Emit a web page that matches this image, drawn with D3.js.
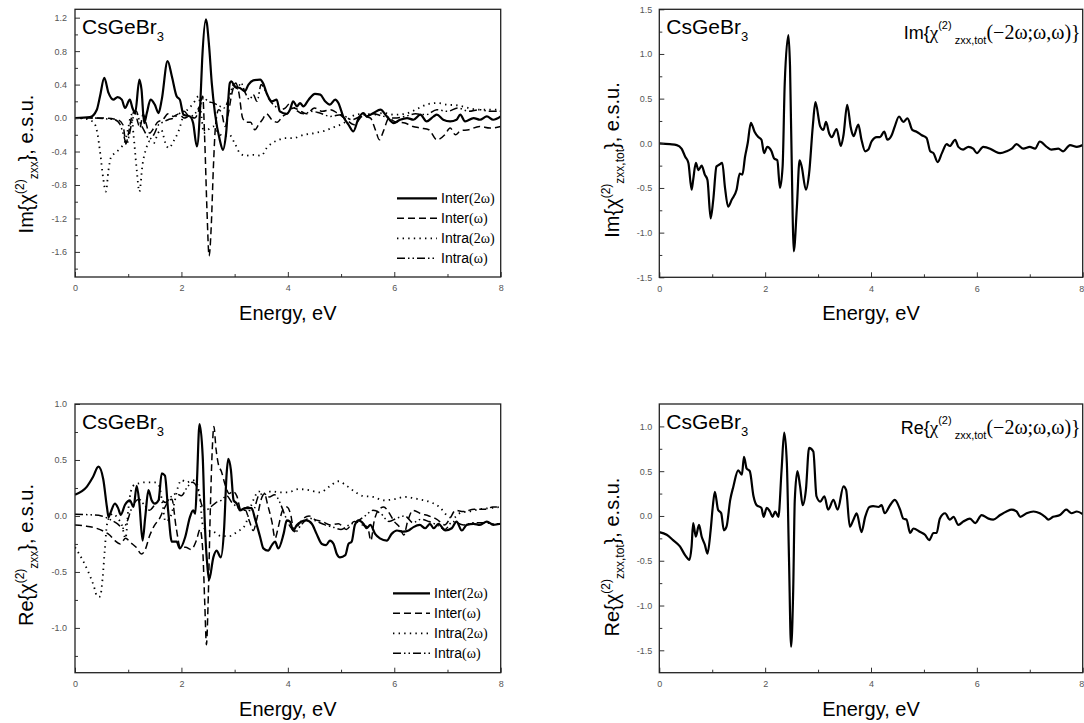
<!DOCTYPE html>
<html>
<head>
<meta charset="utf-8">
<script src="https://cdn.jsdelivr.net/npm/d3@7"></script>
<style>
  body { margin: 0; background: #fff; }
  svg { display: block; }
</style>
</head>
<body>
<svg id="chart" width="1084" height="723"></svg>
<script>
// ---- data (energy in eV, value in e.s.u.) ----
var energyTicks = [0, 2, 4, 6, 8];
var energyMinor = [1, 3, 5, 7];
var legendNames = ['Inter', 'Inter', 'Intra', 'Intra'];
var legendFreqs = ['(2\u03c9)', '(\u03c9)', '(2\u03c9)', '(\u03c9)'];

// Im, top-left
var imInter2w = [[0,0],[0.28,0.01],[0.41,0.1],[0.47,0.26],[0.55,0.48],[0.63,0.3],[0.72,0.22],[0.8,0.25],[0.88,0.22],[0.94,0.12],[1.03,0.22],[1.08,0.12],[1.13,0.06],[1.21,0.46],[1.25,0.34],[1.3,-0.06],[1.35,0.06],[1.42,0.22],[1.5,0.16],[1.57,0.06],[1.63,0.22],[1.74,0.68],[1.82,0.5],[1.91,0.26],[1.97,0.22],[2.04,0.04],[2.16,0.02],[2.22,-0.06],[2.29,-0.34],[2.35,0.1],[2.39,0.7],[2.46,1.18],[2.52,0.86],[2.57,0.42],[2.63,0.06],[2.72,-0.26],[2.78,-0.38],[2.84,-0.18],[2.91,0.42],[2.94,0.44],[3.01,0.37],[3.1,0.36],[3.19,0.32],[3.26,0.4],[3.35,0.45],[3.48,0.46],[3.54,0.41],[3.6,0.3],[3.7,0.2],[3.79,0.22],[3.85,0.08],[3.98,0.05],[4.04,0.1],[4.1,0.2],[4.17,0.14],[4.23,0.18],[4.29,0.14],[4.39,0.22],[4.51,0.29],[4.61,0.28],[4.7,0.2],[4.79,0.16],[4.89,0.22],[4.95,0.18],[5.04,0.02],[5.14,-0.08],[5.23,-0.16],[5.33,0],[5.42,0.06],[5.48,0.02],[5.61,0.06],[5.74,0.1],[5.86,0.02],[5.99,-0.06],[6.11,-0.02],[6.24,0],[6.36,-0.02],[6.49,0.04],[6.61,-0.04],[6.74,0.02],[6.8,0.04],[6.92,-0.02],[7.05,-0.04],[7.17,-0.02],[7.24,0.04],[7.33,-0.04],[7.49,0],[7.61,-0.02],[7.74,0.02],[7.86,-0.02],[8,0.02]];
var imInterW = [[0,0],[0.5,0],[0.8,-0.02],[0.9,-0.08],[0.96,-0.3],[1.0,-0.2],[1.06,0],[1.12,0.08],[1.18,-0.05],[1.22,-0.12],[1.28,0.05],[1.33,-0.05],[1.4,-0.18],[1.48,-0.12],[1.55,-0.05],[1.65,-0.02],[1.75,0.05],[1.85,0.02],[1.95,0.05],[2.05,0],[2.15,0.02],[2.25,0],[2.33,0.1],[2.4,0.26],[2.44,-0.3],[2.48,-1.1],[2.52,-1.65],[2.56,-1.3],[2.6,-0.6],[2.64,-0.1],[2.7,0.1],[2.76,0.05],[2.82,-0.1],[2.88,0.05],[2.95,0.3],[3.02,0.42],[3.08,0.3],[3.15,0],[3.22,-0.05],[3.3,-0.05],[3.38,-0.14],[3.45,-0.08],[3.52,-0.02],[3.6,0.05],[3.7,-0.02],[3.8,-0.05],[3.9,0.02],[4.0,0.06],[4.1,0.12],[4.2,0.1],[4.35,0.05],[4.5,0.12],[4.65,0.08],[4.8,0.1],[4.95,0.05],[5.1,-0.02],[5.25,-0.08],[5.4,0.02],[5.55,0],[5.65,-0.15],[5.72,-0.26],[5.8,-0.15],[5.9,0],[6.0,-0.04],[6.2,-0.06],[6.35,-0.1],[6.5,-0.12],[6.65,-0.14],[6.8,-0.26],[6.95,-0.2],[7.05,-0.12],[7.15,-0.2],[7.25,-0.15],[7.4,-0.14],[7.6,-0.1],[7.8,-0.12],[8,-0.1]];
var imIntra2w = [[0,0],[0.2,-0.01],[0.35,-0.05],[0.42,-0.18],[0.48,-0.45],[0.53,-0.72],[0.58,-0.88],[0.63,-0.62],[0.68,-0.46],[0.75,-0.42],[0.85,-0.36],[0.94,-0.28],[1.0,-0.12],[1.06,0.04],[1.1,-0.2],[1.16,-0.62],[1.21,-0.88],[1.27,-0.55],[1.33,-0.38],[1.4,-0.28],[1.48,-0.3],[1.56,-0.18],[1.62,-0.14],[1.7,-0.3],[1.76,-0.36],[1.85,-0.28],[1.95,-0.15],[2.05,0.05],[2.15,0.12],[2.25,0.2],[2.32,0.26],[2.38,0],[2.42,-0.18],[2.5,-0.14],[2.6,-0.1],[2.7,-0.18],[2.8,-0.22],[2.9,-0.2],[3.0,-0.3],[3.1,-0.42],[3.2,-0.45],[3.35,-0.44],[3.5,-0.45],[3.6,-0.36],[3.7,-0.3],[3.8,-0.27],[3.95,-0.24],[4.1,-0.24],[4.3,-0.2],[4.5,-0.18],[4.7,-0.15],[4.9,-0.1],[5.05,-0.06],[5.2,0.02],[5.4,0.05],[5.6,0.04],[5.8,0.06],[6.0,0.04],[6.2,0.05],[6.4,0.1],[6.6,0.16],[6.8,0.18],[7.0,0.16],[7.2,0.15],[7.4,0.12],[7.6,0.1],[7.8,0.1],[8,0.1]];
var imIntraW = [[0,0],[0.3,0],[0.6,-0.01],[0.75,-0.02],[0.85,-0.08],[0.92,-0.22],[0.97,-0.32],[1.02,-0.2],[1.08,-0.02],[1.15,0.08],[1.22,-0.05],[1.3,-0.15],[1.4,-0.25],[1.48,-0.2],[1.57,-0.08],[1.65,-0.05],[1.75,-0.02],[1.85,0],[1.95,0.05],[2.05,0.08],[2.15,0.02],[2.25,0.05],[2.35,0.15],[2.42,0.24],[2.5,0.2],[2.6,0.18],[2.7,0.15],[2.8,0.12],[2.9,0.25],[2.98,0.4],[3.05,0.35],[3.12,0.42],[3.2,0.3],[3.28,0.22],[3.35,0.28],[3.42,0.2],[3.5,0.4],[3.58,0.32],[3.65,0.22],[3.75,0.15],[3.85,0.1],[3.95,0.12],[4.05,0.18],[4.15,0.1],[4.3,0.05],[4.45,0.08],[4.6,0.06],[4.8,0.02],[5.0,0.04],[5.2,-0.02],[5.4,0.03],[5.6,0.05],[5.8,0.02],[6.0,0],[6.2,0.02],[6.4,0.05],[6.6,0.04],[6.8,0.1],[7.0,0.08],[7.2,0.12],[7.4,0.08],[7.6,0.1],[7.8,0.08],[8,0.08]];

// Im total, top-right
var imTotal = [[0,0],[0.2,-0.01],[0.33,-0.02],[0.42,-0.06],[0.49,-0.15],[0.55,-0.22],[0.61,-0.52],[0.64,-0.41],[0.69,-0.22],[0.74,-0.3],[0.8,-0.25],[0.86,-0.35],[0.91,-0.41],[0.97,-0.84],[1.02,-0.63],[1.08,-0.26],[1.13,-0.24],[1.19,-0.22],[1.24,-0.49],[1.3,-0.71],[1.37,-0.63],[1.46,-0.52],[1.52,-0.34],[1.57,-0.35],[1.62,-0.15],[1.67,0],[1.73,0.23],[1.8,0.13],[1.87,0.07],[1.93,0.04],[1.98,-0.11],[2.04,-0.04],[2.12,-0.09],[2.17,-0.17],[2.23,-0.19],[2.28,-0.5],[2.33,-0.26],[2.37,0.67],[2.44,1.21],[2.47,0.86],[2.52,-0.82],[2.54,-1.21],[2.6,-0.71],[2.65,-0.19],[2.69,-0.26],[2.77,-0.52],[2.83,-0.34],[2.9,0.19],[2.95,0.46],[3.04,0.19],[3.1,0.15],[3.15,0.24],[3.21,0.11],[3.26,0.07],[3.35,0.16],[3.43,-0.03],[3.48,0.09],[3.55,0.43],[3.62,0.17],[3.67,0.08],[3.76,0.21],[3.82,0.04],[3.89,-0.09],[3.95,-0.07],[4.01,0.02],[4.11,0.07],[4.17,0.07],[4.25,0.13],[4.31,0.04],[4.39,0.09],[4.45,0.19],[4.53,0.3],[4.61,0.24],[4.69,0.28],[4.78,0.15],[4.86,0.13],[4.96,0.09],[5.05,0.06],[5.12,-0.09],[5.18,-0.11],[5.26,-0.21],[5.34,-0.11],[5.43,-0.01],[5.49,-0.03],[5.59,0.04],[5.65,-0.04],[5.74,-0.07],[5.84,-0.04],[5.93,-0.06],[6.0,-0.11],[6.12,-0.04],[6.25,-0.06],[6.34,-0.09],[6.44,-0.11],[6.56,-0.09],[6.66,-0.06],[6.75,-0.01],[6.88,-0.06],[7.0,-0.04],[7.1,-0.06],[7.19,0.02],[7.32,-0.04],[7.41,-0.07],[7.54,-0.06],[7.63,-0.09],[7.76,-0.02],[7.89,-0.04],[8,-0.02]];

// Re, bottom-left
var reInter2w = [[0,0.19],[0.22,0.26],[0.34,0.35],[0.44,0.44],[0.53,0.33],[0.6,0.08],[0.63,-0.01],[0.66,0.02],[0.75,0.11],[0.81,0.07],[0.86,0.01],[0.94,0.1],[1.03,0.14],[1.1,0.08],[1.16,0.27],[1.21,0.11],[1.27,-0.22],[1.32,-0.01],[1.38,0.23],[1.44,0.14],[1.5,0.11],[1.57,0.14],[1.63,0.38],[1.69,0.36],[1.75,0.05],[1.82,-0.23],[1.91,-0.23],[1.97,-0.29],[2.07,-0.19],[2.16,-0.01],[2.22,0.05],[2.26,0.02],[2.29,0.29],[2.34,0.82],[2.4,0.53],[2.44,-0.07],[2.49,-0.46],[2.52,-0.57],[2.6,-0.37],[2.66,-0.31],[2.74,-0.37],[2.8,-0.13],[2.85,0.38],[2.88,0.51],[2.93,0.41],[2.98,0.14],[3.04,0.11],[3.1,0.05],[3.2,0.07],[3.32,0.07],[3.38,-0.02],[3.48,-0.19],[3.54,-0.29],[3.63,-0.31],[3.7,-0.26],[3.76,-0.23],[3.82,-0.29],[3.92,-0.16],[3.98,-0.04],[4.04,-0.05],[4.1,-0.13],[4.17,-0.08],[4.26,-0.05],[4.35,-0.04],[4.45,-0.07],[4.54,-0.16],[4.64,-0.25],[4.72,-0.26],[4.79,-0.22],[4.86,-0.25],[4.92,-0.34],[4.98,-0.37],[5.08,-0.35],[5.14,-0.25],[5.2,-0.23],[5.26,-0.08],[5.33,-0.04],[5.42,-0.07],[5.48,-0.11],[5.55,-0.08],[5.64,-0.16],[5.73,-0.2],[5.86,-0.22],[5.95,-0.16],[6.05,-0.13],[6.17,-0.14],[6.27,-0.13],[6.36,-0.1],[6.48,-0.08],[6.58,-0.11],[6.67,-0.07],[6.74,-0.11],[6.83,-0.07],[6.96,-0.13],[7.08,-0.11],[7.17,-0.05],[7.27,-0.13],[7.36,-0.08],[7.49,-0.07],[7.61,-0.08],[7.74,-0.05],[7.86,-0.08],[8,-0.07]];
var reInterW = [[0,-0.08],[0.2,-0.09],[0.4,-0.11],[0.55,-0.14],[0.65,-0.17],[0.75,-0.22],[0.85,-0.25],[0.95,-0.2],[1.05,-0.24],[1.15,-0.28],[1.25,-0.34],[1.32,-0.3],[1.4,-0.18],[1.5,-0.08],[1.58,-0.03],[1.66,0.05],[1.74,0.12],[1.82,0.15],[1.9,-0.1],[1.98,-0.28],[2.08,-0.28],[2.18,-0.3],[2.28,-0.22],[2.35,-0.12],[2.4,-0.3],[2.44,-0.8],[2.47,-1.15],[2.5,-0.8],[2.54,0],[2.58,0.6],[2.61,0.8],[2.65,0.6],[2.7,0.45],[2.75,0.4],[2.82,0.28],[2.9,0.2],[2.96,0.22],[3.04,0.18],[3.12,0.05],[3.2,0.05],[3.28,-0.05],[3.35,-0.13],[3.42,-0.02],[3.5,0.15],[3.56,0.2],[3.62,0.1],[3.7,-0.05],[3.76,-0.2],[3.82,-0.1],[3.9,0.05],[3.98,0.08],[4.05,0.02],[4.12,-0.14],[4.2,-0.08],[4.3,-0.02],[4.4,0],[4.5,-0.03],[4.65,-0.05],[4.8,-0.08],[4.95,-0.07],[5.1,-0.12],[5.25,-0.05],[5.4,-0.08],[5.5,-0.1],[5.56,-0.22],[5.62,-0.05],[5.7,0.05],[5.8,0.08],[5.9,0.03],[6.0,-0.05],[6.1,-0.1],[6.18,-0.17],[6.25,-0.05],[6.35,0.05],[6.5,0.02],[6.65,0],[6.8,-0.03],[6.95,-0.08],[7.05,-0.02],[7.15,0.05],[7.3,0.04],[7.5,0.06],[7.7,0.06],[7.85,0.08],[8,0.08]];
var reIntra2w = [[0,-0.28],[0.15,-0.4],[0.25,-0.5],[0.35,-0.62],[0.42,-0.72],[0.47,-0.72],[0.52,-0.55],[0.56,-0.3],[0.6,-0.08],[0.66,0],[0.72,0.02],[0.8,-0.02],[0.88,-0.08],[0.95,-0.2],[1.0,0.05],[1.05,0.22],[1.12,0.28],[1.2,0.29],[1.3,0.3],[1.4,0.3],[1.5,0.3],[1.58,0.27],[1.64,0.12],[1.7,-0.05],[1.78,-0.02],[1.86,0.1],[1.93,0.25],[2.0,0.32],[2.1,0.3],[2.2,0.32],[2.28,0.3],[2.35,0.15],[2.4,-0.08],[2.45,-0.12],[2.6,-0.14],[2.75,-0.18],[2.9,-0.18],[3.05,-0.14],[3.2,-0.08],[3.28,0.05],[3.36,0.15],[3.45,0.22],[3.55,0.2],[3.7,0.22],[3.85,0.21],[4.0,0.21],[4.2,0.24],[4.4,0.23],[4.6,0.21],[4.8,0.27],[4.95,0.31],[5.1,0.27],[5.25,0.22],[5.4,0.18],[5.6,0.17],[5.8,0.14],[6.0,0.15],[6.2,0.17],[6.45,0.15],[6.7,0.12],[6.85,0.08],[7.0,0],[7.1,-0.02],[7.25,0.03],[7.4,0.04],[7.6,0.06],[7.8,0.07],[8,0.08]];
var reIntraW = [[0,0.015],[0.3,0.01],[0.5,0],[0.65,-0.03],[0.8,-0.07],[0.9,-0.11],[0.98,-0.05],[1.05,0.05],[1.12,0.12],[1.2,0.15],[1.3,0.1],[1.4,0.05],[1.5,0.1],[1.6,0.15],[1.7,0.12],[1.8,0.17],[1.9,0.2],[2.0,0.18],[2.1,0.25],[2.2,0.3],[2.3,0.25],[2.38,0.1],[2.45,0.05],[2.55,0.08],[2.65,0.12],[2.75,0.14],[2.85,0.18],[2.95,0.12],[3.05,0.08],[3.15,0.06],[3.25,0.08],[3.35,0.05],[3.45,0.18],[3.55,0.2],[3.65,0.17],[3.75,0.19],[3.85,0.12],[3.95,0],[4.05,-0.1],[4.15,-0.14],[4.25,-0.08],[4.4,-0.02],[4.55,-0.05],[4.7,-0.08],[4.85,-0.1],[5.0,-0.12],[5.15,-0.08],[5.3,-0.05],[5.45,0],[5.6,0.05],[5.75,0.02],[5.9,-0.05],[6.05,-0.02],[6.2,0],[6.35,-0.06],[6.5,-0.03],[6.65,-0.05],[6.8,-0.08],[6.95,-0.12],[7.1,-0.05],[7.3,-0.08],[7.5,-0.06],[7.7,-0.06],[7.85,-0.07],[8,-0.07]];

// Re total, bottom-right
var reTotal = [[0,-0.18],[0.14,-0.21],[0.26,-0.27],[0.39,-0.34],[0.49,-0.44],[0.57,-0.49],[0.61,-0.34],[0.64,-0.08],[0.69,-0.23],[0.75,-0.1],[0.8,-0.23],[0.86,-0.32],[0.91,-0.42],[0.97,-0.16],[1.01,0.1],[1.05,0.27],[1.11,0.07],[1.17,0.03],[1.22,-0.16],[1.27,-0.12],[1.34,0.18],[1.4,0.33],[1.49,0.51],[1.56,0.46],[1.6,0.66],[1.65,0.53],[1.71,0.5],[1.78,0.22],[1.84,0.12],[1.93,0.09],[1.97,-0.01],[2.03,0.09],[2.09,0.05],[2.14,-0.01],[2.19,0.05],[2.25,-0.01],[2.31,0.51],[2.36,0.93],[2.41,0.59],[2.45,-0.46],[2.49,-1.46],[2.53,-0.83],[2.56,0.18],[2.61,0.5],[2.66,0.33],[2.71,0.12],[2.77,0.29],[2.83,0.76],[2.91,0.72],[2.97,0.22],[3.04,0.16],[3.12,0.22],[3.19,0.07],[3.29,0.18],[3.37,0.07],[3.48,0.33],[3.53,0.29],[3.6,-0.12],[3.67,-0.04],[3.73,0.03],[3.82,-0.18],[3.89,-0.01],[3.97,0.1],[4.04,0.11],[4.14,0.1],[4.2,0.12],[4.26,0.03],[4.36,0.12],[4.45,0.18],[4.55,0.07],[4.61,-0.03],[4.67,-0.04],[4.74,-0.19],[4.8,-0.14],[4.93,-0.18],[5.02,-0.21],[5.1,-0.27],[5.18,-0.19],[5.24,-0.19],[5.3,-0.03],[5.4,0.03],[5.49,-0.04],[5.56,-0.01],[5.65,-0.1],[5.75,-0.06],[5.87,-0.03],[5.97,-0.08],[6.09,0.01],[6.22,-0.03],[6.31,-0.04],[6.44,0.01],[6.56,0.05],[6.66,0.07],[6.75,0.05],[6.82,-0.01],[6.94,0.03],[7.07,0.05],[7.19,0.03],[7.29,-0.01],[7.35,-0.04],[7.44,-0.01],[7.57,0.01],[7.69,0.07],[7.79,0.03],[7.89,0.05],[8,0.02]];

// ---- drawing ----
var svg = d3.select('#chart');
svg.append('rect').attr('width', 1084).attr('height', 723).attr('fill', '#fff');

var styles = {
  solid:   {width: 2.2, dash: null},
  dashed:  {width: 1.5, dash: '7,4'},
  dotted:  {width: 1.8, dash: '1.4,4.2'},
  dashdot: {width: 1.5, dash: '8,3,1.5,3,1.5,3'}
};

var fmt = function(v) {
  return Math.abs(v) < 1e-9 ? '0.0' : v.toFixed(1);
};

function drawPanel(cfg, idx) {
  var x = d3.scaleLinear().domain([0, 8]).range([cfg.left, cfg.right]);
  var y = d3.scaleLinear().domain(cfg.yDomain).range([cfg.bottom, cfg.top]);
  var g = svg.append('g');

  g.append('clipPath').attr('id', 'clip' + idx)
    .append('rect')
      .attr('x', cfg.left).attr('y', cfg.top)
      .attr('width', cfg.right - cfg.left).attr('height', cfg.bottom - cfg.top);

  var line = d3.line()
      .x(function(d) { return x(d[0]); })
      .y(function(d) { return y(d[1]); })
      .curve(d3.curveMonotoneX);

  // draw thin styles first so the solid curve sits on top
  cfg.series.slice().reverse().forEach(function(s) {
    var st = styles[s.style];
    g.append('path')
        .attr('d', line(s.data))
        .attr('clip-path', 'url(#clip' + idx + ')')
        .attr('fill', 'none')
        .attr('stroke', '#000')
        .attr('stroke-width', st.width)
        .attr('stroke-linejoin', 'round')
        .attr('stroke-dasharray', st.dash);
  });

  // axes: ticks point inwards
  var xAxis = g.append('g')
      .attr('transform', 'translate(0,' + cfg.bottom + ')')
      .call(d3.axisBottom(x).tickValues(energyTicks).tickSize(-5).tickPadding(8)
        .tickFormat(d3.format('d')));
  g.append('g')
      .attr('transform', 'translate(0,' + cfg.bottom + ')')
      .call(d3.axisBottom(x).tickValues(energyMinor).tickSize(-3).tickFormat(''));

  g.append('g')
      .attr('transform', 'translate(' + cfg.left + ',0)')
      .call(d3.axisLeft(y).tickValues(cfg.yMajor).tickSize(-5).tickPadding(cfg.yPad).tickFormat(fmt));
  g.append('g')
      .attr('transform', 'translate(' + cfg.left + ',0)')
      .call(d3.axisLeft(y).tickValues(cfg.yMinor).tickSize(-3).tickFormat(''));

  g.selectAll('.domain').remove();
  g.selectAll('.tick line').attr('stroke', '#333');
  g.selectAll('.tick text')
      .attr('font-family', 'Arial, "Liberation Sans", sans-serif')
      .attr('font-size', 9)
      .attr('fill', '#555');

  // last energy label would run off the page on the right-hand panels
  if (cfg.right > 1075) {
    xAxis.selectAll('.tick:last-of-type text').attr('text-anchor', 'end').attr('dx', 1);
  }

  // frame
  g.append('rect')
      .attr('x', cfg.left).attr('y', cfg.top)
      .attr('width', cfg.right - cfg.left).attr('height', cfg.bottom - cfg.top)
      .attr('fill', 'none')
      .attr('stroke', '#222')
      .attr('stroke-width', 1.3);

  // x title
  g.append('text')
      .attr('x', (cfg.left + cfg.right) / 2)
      .attr('y', cfg.bottom + 43)
      .attr('text-anchor', 'middle')
      .attr('font-family', 'Arial, "Liberation Sans", sans-serif')
      .attr('font-size', 20)
      .text('Energy, eV');

  // y title
  var yt = g.append('text')
      .attr('transform', 'translate(' + cfg.yTitleX + ',' + cfg.yTitleY + ') rotate(-90)')
      .attr('text-anchor', 'middle')
      .attr('font-family', 'Arial, "Liberation Sans", sans-serif')
      .attr('font-size', 20);
  yt.append('tspan').text(cfg.part + '{\u03c7');
  yt.append('tspan').attr('dy', -9).attr('font-size', 12).text('(2)');
  yt.append('tspan').attr('dy', 14).attr('font-size', 12).text(cfg.sub);
  yt.append('tspan').attr('dy', -5).text('}, e.s.u.');

  // compound label
  var cl = g.append('text')
      .attr('x', cfg.left + 7)
      .attr('y', cfg.top + 25)
      .attr('font-family', 'Arial, "Liberation Sans", sans-serif')
      .attr('font-size', 21);
  cl.append('tspan').text('CsGeBr');
  cl.append('tspan').attr('dy', 7).attr('font-size', 13).text('3');

  // formula annotation on total panels
  if (cfg.note) {
    var nt = g.append('text')
        .attr('x', cfg.right - 2)
        .attr('y', cfg.top + 30)
        .attr('text-anchor', 'end')
        .attr('font-family', 'Arial, "Liberation Sans", sans-serif')
        .attr('font-size', 18);
    nt.append('tspan').text(cfg.part + '{');
    nt.append('tspan').attr('font-family', '"Times New Roman", "Liberation Serif", serif').attr('font-size', 19).text('\u03c7');
    nt.append('tspan').attr('dy', -10).attr('font-size', 11).text('(2)');
    nt.append('tspan').attr('dy', 15).attr('font-size', 11).attr('dx', 3).text('zxx,tot');
    nt.append('tspan').attr('dy', -5)
        .attr('font-family', '"Times New Roman", "Liberation Serif", serif').attr('font-size', 20)
        .text('(\u22122\u03c9;\u03c9,\u03c9)}');
  }

  // legend
  if (cfg.legend) {
    var lg = g.append('g');
    cfg.series.forEach(function(s, i) {
      var st = styles[s.style];
      var ly = cfg.legend.y + i * 20;
      lg.append('line')
          .attr('x1', cfg.legend.x1).attr('x2', cfg.legend.x2)
          .attr('y1', ly).attr('y2', ly)
          .attr('stroke', '#000')
          .attr('stroke-width', st.width)
          .attr('stroke-dasharray', st.dash);
      var t = lg.append('text')
          .attr('x', cfg.legend.x2 + 4)
          .attr('y', ly + 5)
          .attr('font-family', 'Arial, "Liberation Sans", sans-serif')
          .attr('font-size', 14);
      t.append('tspan').text(legendNames[i]);
      t.append('tspan')
          .attr('font-family', '"Times New Roman", "Liberation Serif", serif')
          .text(legendFreqs[i]);
    });
  }
}

var panels = [
  {left: 75, right: 500.7, top: 9.3, bottom: 277, yDomain: [-1.9, 1.3],
   yMajor: [-1.6, -1.2, -0.8, -0.4, 0, 0.4, 0.8, 1.2], yMinor: [-1.8, -1.4, -1.0, -0.6, -0.2, 0.2, 0.6, 1.0],
   yPad: 8, yTitleX: 33, yTitleY: 164, part: 'Im', sub: 'zxx',
   series: [{data: imInter2w, style: 'solid'}, {data: imInterW, style: 'dashed'},
            {data: imIntra2w, style: 'dotted'}, {data: imIntraW, style: 'dashdot'}],
   legend: {x1: 397, x2: 437, y: 198.3}},
  {left: 659.3, right: 1082.7, top: 9.3, bottom: 277.3, yDomain: [-1.5, 1.5],
   yMajor: [-1.5, -1.0, -0.5, 0, 0.5, 1.0, 1.5], yMinor: [-1.25, -0.75, -0.25, 0.25, 0.75, 1.25],
   yPad: 7, yTitleX: 619, yTitleY: 160, part: 'Im', sub: 'zxx,tot', note: true,
   series: [{data: imTotal, style: 'solid'}]},
  {left: 75, right: 500.7, top: 404, bottom: 672.7, yDomain: [-1.4, 1.0],
   yMajor: [-1.0, -0.5, 0, 0.5, 1.0], yMinor: [-1.25, -0.75, -0.25, 0.25, 0.75],
   yPad: 8, yTitleX: 33, yTitleY: 555, part: 'Re', sub: 'zxx',
   series: [{data: reInter2w, style: 'solid'}, {data: reInterW, style: 'dashed'},
            {data: reIntra2w, style: 'dotted'}, {data: reIntraW, style: 'dashdot'}],
   legend: {x1: 393, x2: 430, y: 593.3}},
  {left: 659.3, right: 1082.7, top: 404, bottom: 672.7, yDomain: [-1.75, 1.25],
   yMajor: [-1.5, -1.0, -0.5, 0, 0.5, 1.0], yMinor: [-1.25, -0.75, -0.25, 0.25, 0.75],
   yPad: 7, yTitleX: 619, yTitleY: 557, part: 'Re', sub: 'zxx,tot', note: true,
   series: [{data: reTotal, style: 'solid'}]}
];

panels.forEach(drawPanel);
</script>
</body>
</html>
